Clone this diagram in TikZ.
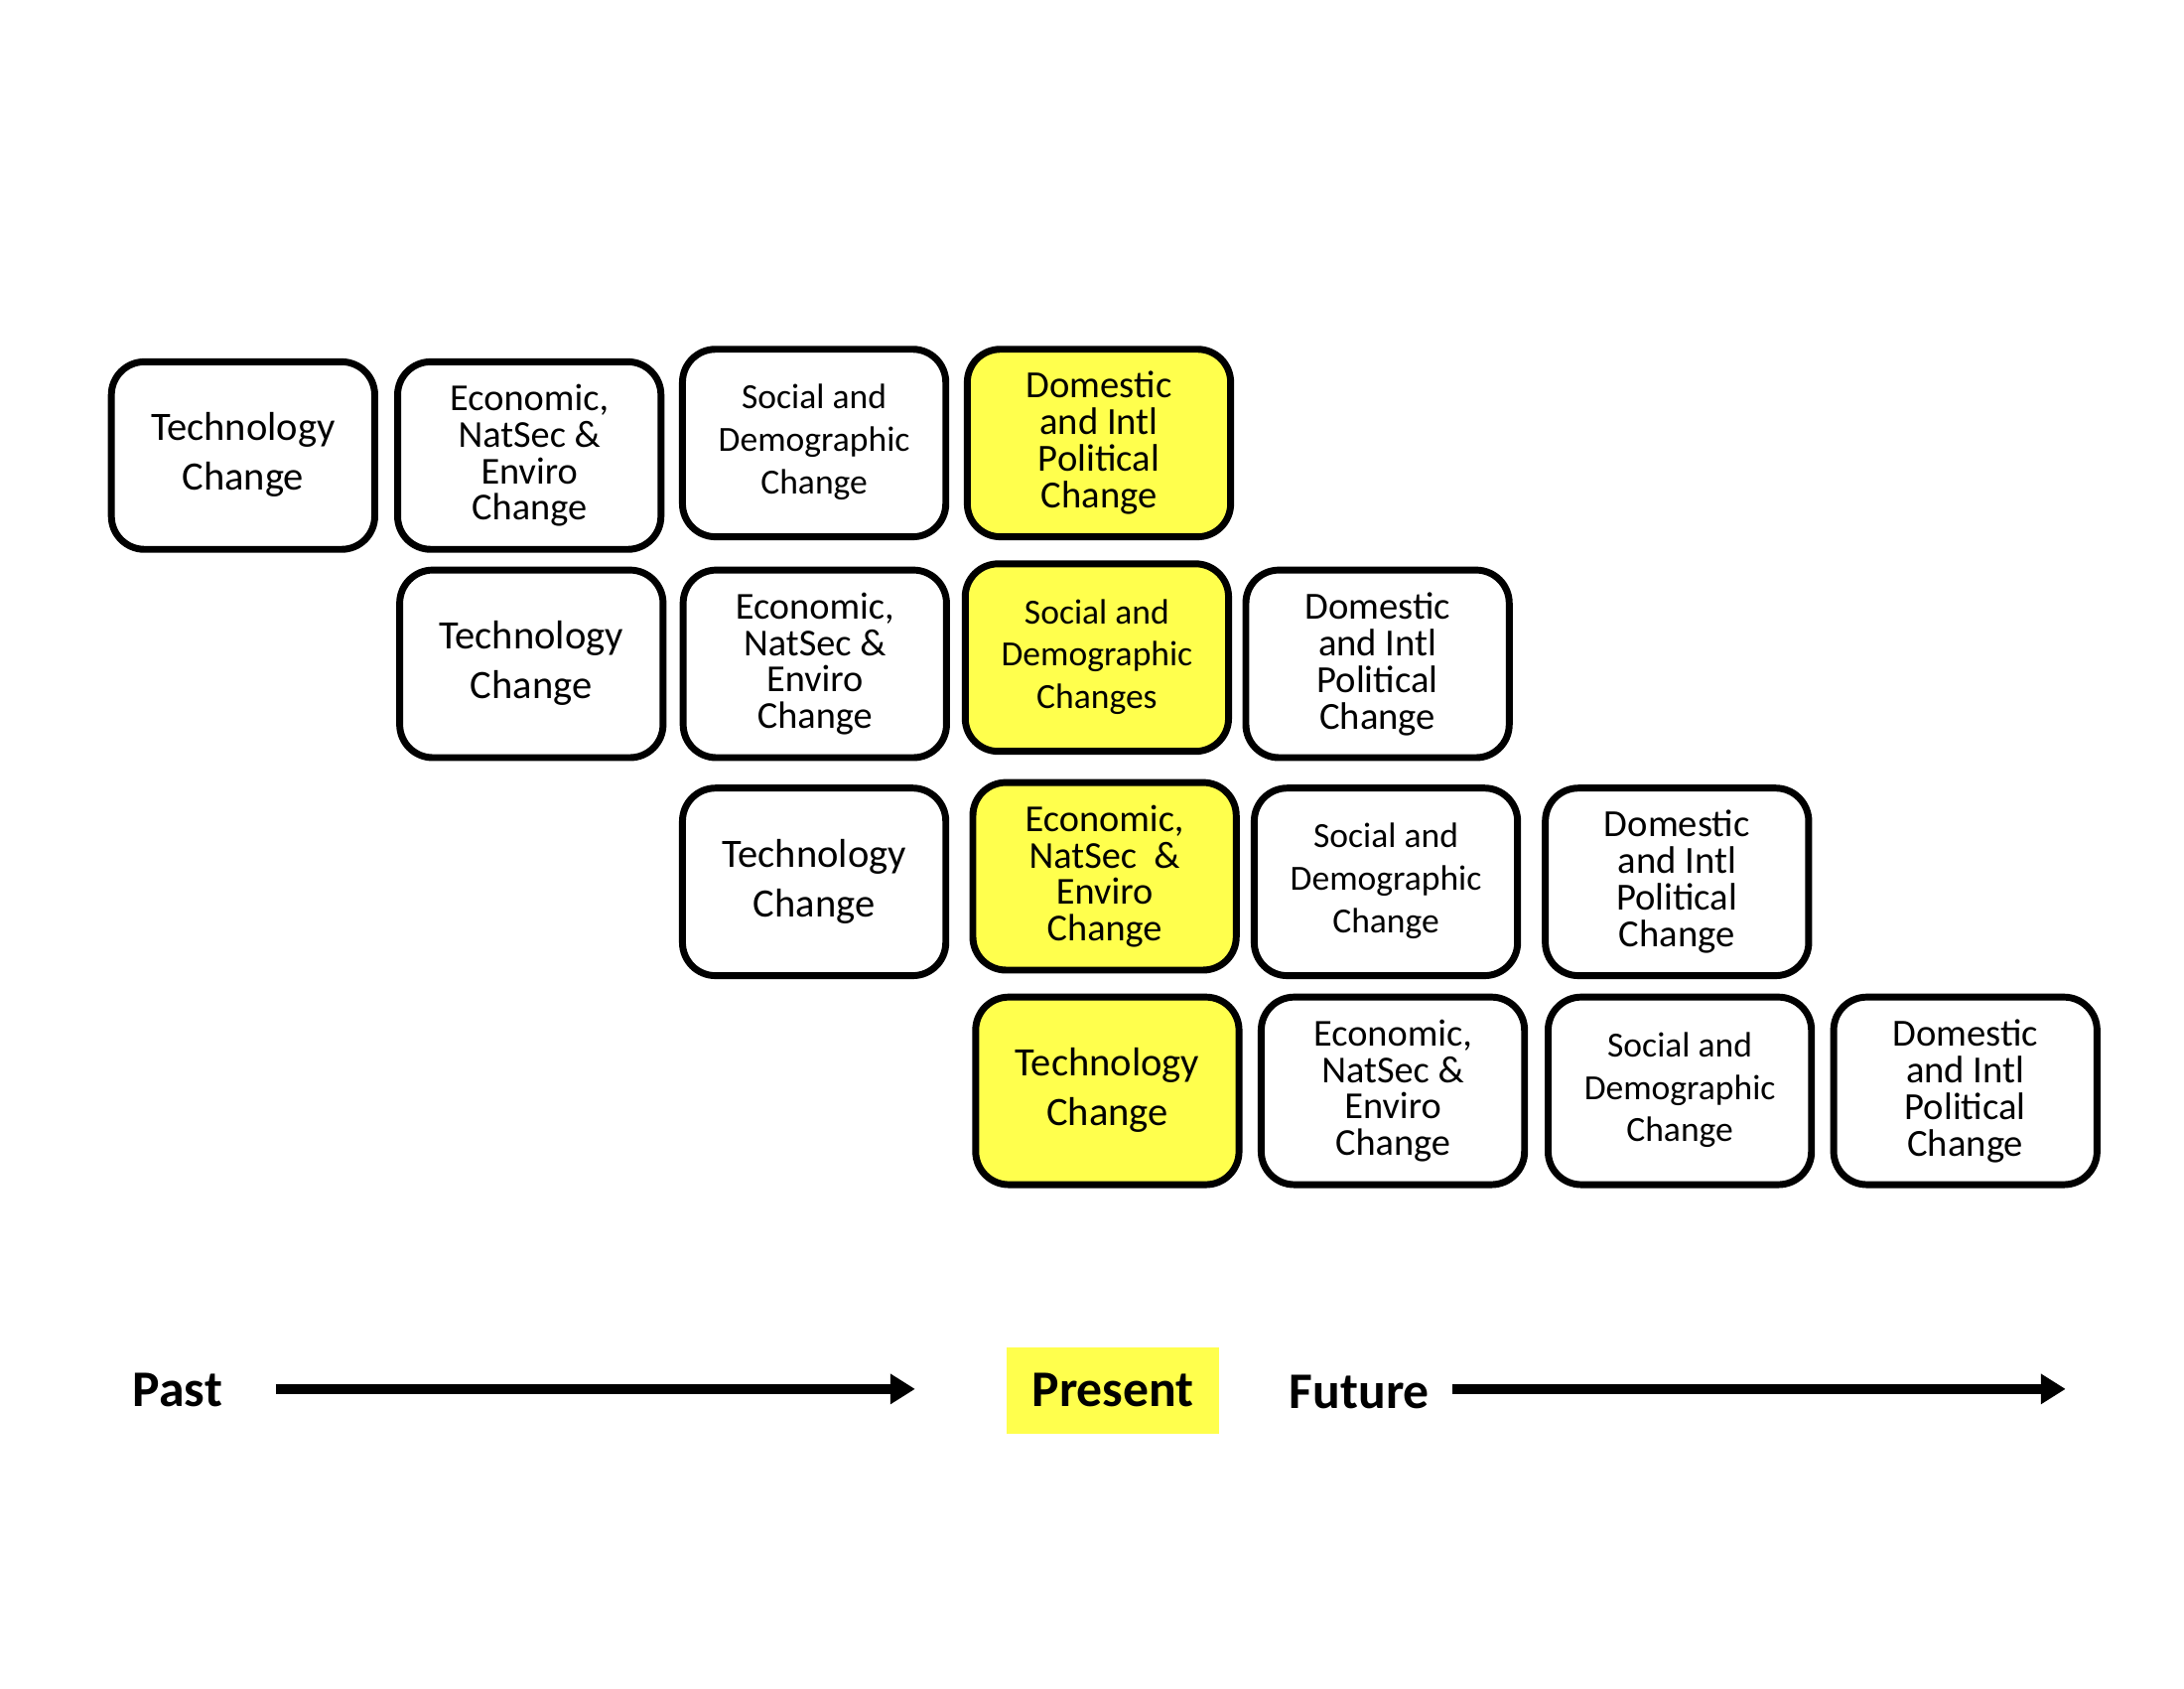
\documentclass[tikz,border=0pt]{standalone}
\usepackage{fontspec}
\setmainfont{Carlito}
\usetikzlibrary{arrows.meta}
\definecolor{hiyel}{RGB}{255,255,77}
\tikzset{
  box/.style={draw=black, line width=2.5pt, rounded corners=12pt, fill=white,
    minimum width=95.5pt, minimum height=68pt, align=center, inner sep=1pt},
  ybox/.style={box, fill=hiyel},
  tech/.style={font=\fontsize{14.6}{18}\selectfont},
  econ/.style={font=\fontsize{13.8}{13.2}\selectfont},
  soc/.style={font=\fontsize{12.8}{15.4}\selectfont},
  dom/.style={font=\fontsize{13.9}{13.3}\selectfont},
  timelbl/.style={font=\fontsize{18.6}{20}\selectfont\bfseries, inner sep=0pt},
  timearrow/.style={line width=3.6pt, -{Triangle[length=9pt,width=10.5pt]}}
}
\newcommand{\lowtext}[1]{\raisebox{-1.5pt}{\begin{tabular}{@{}c@{}}#1\end{tabular}}}
\begin{document}
\begin{tikzpicture}[x=0.5051pt,y=-0.5051pt]
\useasboundingbox (0,0) rectangle (1568,1212);
% Row 1
\node[box,tech] (a1) at (174.5,327) {\lowtext{Technology\\Change}};
\node[box,econ] (a2) at (380,327) {Economic,\\NatSec \&\\Enviro\\Change};
\node[box,soc] (a3) at (584.5,318) {\lowtext{Social and\\Demographic\\Change}};
\node[ybox,dom] (a4) at (789,318) {Domestic\\and Intl\\Political\\Change};
% Row 2
\node[box,tech] (b1) at (381.5,476.5) {\lowtext{Technology\\Change}};
\node[box,econ] (b2) at (585,476.5) {Economic,\\NatSec \&\\Enviro\\Change};
\node[ybox,soc] (b3) at (787.5,472) {\lowtext{Social and\\Demographic\\Changes}};
\node[box,dom] (b4) at (989,476.5) {Domestic\\and Intl\\Political\\Change};
% Row 3
\node[box,tech] (c1) at (584.5,633) {\lowtext{Technology\\Change}};
\node[ybox,econ] (c2) at (793,629) {Economic,\\NatSec~~\&\\Enviro\\Change};
\node[box,soc] (c3) at (995,633) {\lowtext{Social and\\Demographic\\Change}};
\node[box,dom] (c4) at (1204,633) {Domestic\\and Intl\\Political\\Change};
% Row 4
\node[ybox,tech] (d1) at (795,783) {\lowtext{Technology\\Change}};
\node[box,econ] (d2) at (1000,783) {Economic,\\NatSec \&\\Enviro\\Change};
\node[box,soc] (d3) at (1206,783) {\lowtext{Social and\\Demographic\\Change}};
\node[box,dom] (d4) at (1411,783) {Domestic\\and Intl\\Political\\Change};
% Timeline
\node[timelbl] (past) at (127.5,998) {Past};
\node[timelbl, fill=hiyel, minimum width=76.8pt, minimum height=31.3pt] (present) at (799,998) {Present};
\node[timelbl] (future) at (976,999) {Future};
\coordinate (p1s) at (198,997);
\coordinate (p1e) at (657,997);
\coordinate (f1s) at (1043,997);
\coordinate (f1e) at (1483,997);
\draw[timearrow] (p1s) -- (p1e);
\draw[timearrow] (f1s) -- (f1e);
\end{tikzpicture}
\end{document}
